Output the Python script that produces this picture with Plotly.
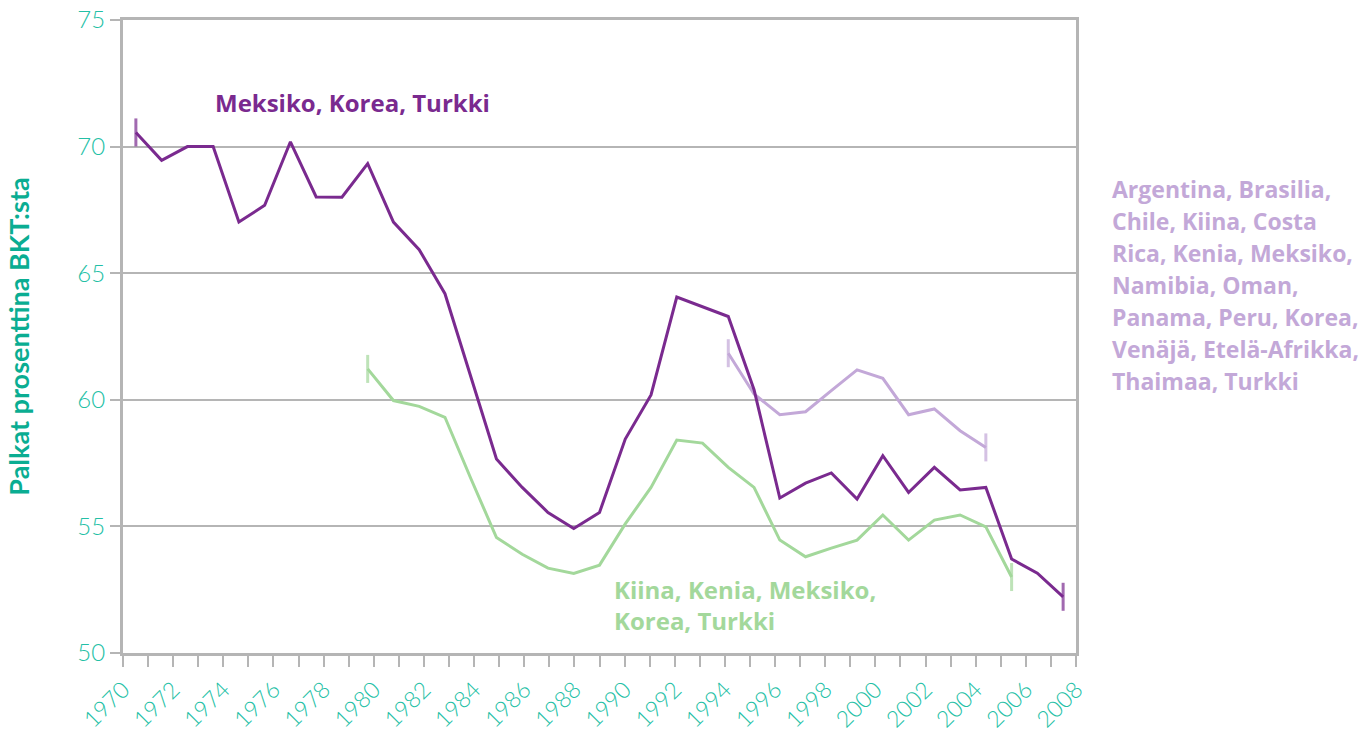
import plotly.graph_objects as go

# ---- data ----
years_mkt = list(range(1971, 2008))
mkt_vals = [70.56, 69.46, 70.0, 70.0, 67.02, 67.68, 70.19, 68.01, 68.0, 69.33,
            67.02, 65.93, 64.19, 60.9, 57.66, 56.54, 55.55, 54.92, 55.55, 58.45,
            60.19, 64.06, 63.69, 63.29, 60.4, 56.12, 56.71, 57.11, 56.08, 57.79,
            56.34, 57.33, 56.44, 56.54, 53.71, 53.15, 52.22]

years_green = list(range(1980, 2006))
green_vals = [61.22, 59.97, 59.74, 59.31, 56.9, 54.56, 53.90, 53.35, 53.14, 53.47,
              55.1, 56.54, 58.41, 58.29, 57.33, 56.54, 54.46, 53.80, 54.14, 54.46,
              55.45, 54.46, 55.25, 55.45, 54.98, 53.0]

years_light = list(range(1994, 2005))
light_vals = [61.84, 60.23, 59.41, 59.53, 60.36, 61.18, 60.85, 59.41, 59.64, 58.78, 58.12]

tick_years = list(range(1970, 2009))
tick_labels = [str(y) if y % 2 == 0 else "" for y in tick_years]
y_ticks = [50, 55, 60, 65, 70, 75]

label_mkt = "Meksiko, Korea, Turkki"
label_green = "Kiina, Kenia, Meksiko,<br>Korea, Turkki"
label_light_lines = ["Argentina, Brasilia,", "Chile, Kiina, Costa", "Rica, Kenia, Meksiko,",
                     "Namibia, Oman,", "Panama, Peru, Korea,", "Venäjä, Etelä-Afrikka,",
                     "Thaimaa, Turkki"]
y_title = "Palkat prosenttina BKT:sta"

# ---- styles ----
C_DARK = "#7a2a8f"
C_LIGHT = "#c3a8d8"
C_GREEN = "#a3d89b"
C_TEAL = "#24bfa6"
C_TEAL_DARK = "#0aad92"
C_GRID = "#b5b5b5"
FONT = "Lato"
FONT_BOLD = "Open Sans"
PLOT_H = 633          # plot area height in px
LIGHT_LINE_PX = 32    # line spacing of the right-hand label block


def cap_sizes(n):
    return [20] + [0] * (n - 2) + [20]


def add_series(fig, xs, ys, color):
    fig.add_trace(go.Scatter(
        x=xs, y=ys, mode="lines+markers",
        line=dict(color=color, width=3),
        marker=dict(symbol="line-ns", size=cap_sizes(len(xs)),
                    line=dict(color=color, width=3), color=color),
        hoverinfo="x+y", showlegend=False, xaxis="x", yaxis="y",
    ))


fig = go.Figure()
add_series(fig, years_green, green_vals, C_GREEN)
add_series(fig, years_light, light_vals, C_LIGHT)
add_series(fig, years_mkt, mkt_vals, C_DARK)

# invisible trace to activate the labelled axis
fig.add_trace(go.Scatter(x=[tick_years[0], tick_years[-1]], y=[None, None],
                         mode="lines", showlegend=False, hoverinfo="skip",
                         xaxis="x2", yaxis="y"))

annotations = [
    dict(text="<b>" + label_mkt + "</b>", xref="paper", yref="paper",
         x=0.0944, y=0.870, xanchor="left", yanchor="middle", showarrow=False,
         font=dict(family=FONT_BOLD, size=24, color=C_DARK)),
    dict(text="<b>" + label_green + "</b>", xref="paper", yref="paper",
         x=0.513, y=0.0758, xanchor="left", yanchor="middle", showarrow=False,
         align="left", font=dict(family=FONT_BOLD, size=24, color=C_GREEN)),
]
n_light = len(label_light_lines)
light_center = 0.581
for i, line in enumerate(label_light_lines):
    yy = light_center + ((n_light - 1) / 2 - i) * LIGHT_LINE_PX / PLOT_H
    annotations.append(dict(text="<b>" + line + "</b>", xref="paper", yref="paper",
                            x=1.0357, y=yy, xanchor="left", yanchor="middle",
                            showarrow=False,
                            font=dict(family=FONT_BOLD, size=23, color=C_LIGHT)))

fig.update_layout(
    width=1370, height=735,
    margin=dict(l=123, r=294, t=20, b=82, autoexpand=False),
    paper_bgcolor="white", plot_bgcolor="white",
    font=dict(family=FONT, color=C_TEAL),
    xaxis=dict(
        range=[years_mkt[0] - 0.5, years_mkt[-1] + 0.5],
        showticklabels=False, ticks="", showgrid=False, zeroline=False,
        showline=False, fixedrange=True, automargin=False,
    ),
    xaxis2=dict(
        overlaying="x", side="bottom", automargin=False,
        range=[tick_years[0], tick_years[-1]],
        tickmode="array", tickvals=tick_years, ticktext=tick_labels,
        tickangle=-45, ticks="outside", ticklen=11, tickwidth=2, tickcolor=C_GRID,
        showline=True, linecolor=C_GRID, linewidth=3, mirror=True,
        showgrid=False, zeroline=False, ticklabeloverflow="allow",
        tickfont=dict(family=FONT, size=23, color=C_TEAL, weight=300),
    ),
    yaxis=dict(
        range=[50, 75], tickvals=y_ticks, automargin=False,
        ticks="outside", ticklen=10, tickwidth=2, tickcolor=C_GRID,
        showgrid=True, gridcolor=C_GRID, gridwidth=2,
        showline=True, linecolor=C_GRID, linewidth=3, mirror=True,
        zeroline=False, ticklabeloverflow="allow",
        tickfont=dict(family=FONT, size=24, color=C_TEAL, weight=300),
        title=dict(text="<b>" + y_title + "</b>", standoff=40,
                   font=dict(family=FONT, size=27, color=C_TEAL_DARK)),
    ),
    annotations=annotations,
)

fig.write_html("out.html",
               config={"displayModeBar": False},
               post_script="document.body.style.margin='0px';"
                           "document.body.style.overflow='hidden';")
